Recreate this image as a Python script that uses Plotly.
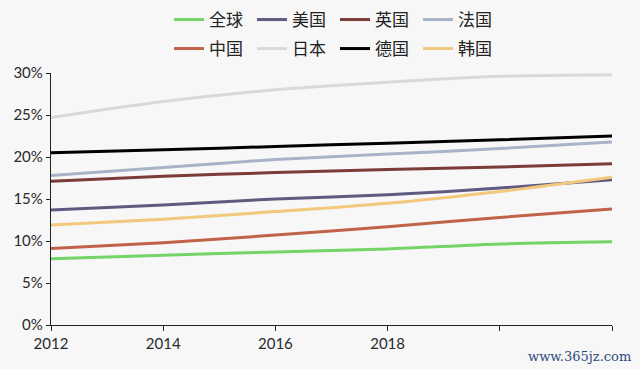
import plotly.graph_objects as go

years = [2012, 2014, 2016, 2018, 2020, 2022]
tick_vals = [2012, 2014, 2016, 2018, 2020, 2022]
tick_text = ["2012", "2014", "2016", "2018", "", ""]

series_names = ["全球", "美国", "英国", "法国", "中国", "日本", "德国", "韩国"]
global_vals = [7.9, 8.3, 8.7, 9.05, 9.65, 9.9]
usa_vals = [13.7, 14.3, 15.0, 15.5, 16.3, 17.3]
uk_vals = [17.1, 17.7, 18.15, 18.5, 18.8, 19.2]
france_vals = [17.8, 18.75, 19.7, 20.35, 21.0, 21.8]
china_vals = [9.1, 9.8, 10.7, 11.7, 12.8, 13.8]
japan_vals = [24.7, 26.6, 28.0, 28.9, 29.6, 29.8]
germany_vals = [20.5, 20.85, 21.25, 21.65, 22.05, 22.5]
korea_vals = [11.9, 12.6, 13.5, 14.5, 15.9, 17.6]

colors = ["#74d468", "#5f5b80", "#7b3b36", "#a8b3c8",
          "#c1624a", "#d9d9d9", "#000000", "#f2c97c"]
values = [global_vals, usa_vals, uk_vals, france_vals,
          china_vals, japan_vals, germany_vals, korea_vals]

fig = go.Figure()
for i, (name, vals, col) in enumerate(zip(series_names, values, colors)):
    fig.add_trace(go.Scatter(
        x=years, y=vals, name=name, mode="lines",
        line=dict(color=col, width=3, shape="spline", smoothing=0.8),
        legend="legend" if i < 4 else "legend2",
    ))

bg = "#f7f7f7"
L, R, T, B = 51, 28, 73, 44
W, H = 640, 369
pw, ph = W - L - R, H - T - B


def px_x(px):
    return (px - L) / pw


def px_y(py):
    return (H - B - py) / ph


legend_common = dict(
    orientation="h", xref="paper", yref="paper",
    xanchor="left", yanchor="middle",
    font=dict(family="Noto Sans CJK SC", size=17, color="#222222"),
    bgcolor="rgba(0,0,0,0)", entrywidth=38, itemwidth=30,
    tracegroupgap=0,
)

tick_font = dict(family="Lato, DejaVu Sans", size=15, color="#2a2a2a")

fig.update_layout(
    width=W, height=H,
    paper_bgcolor=bg, plot_bgcolor=bg,
    margin=dict(l=L, r=R, t=T, b=B, autoexpand=False),
    showlegend=True,
    legend=dict(x=px_x(169), y=px_y(20), **legend_common),
    legend2=dict(x=px_x(169), y=px_y(49), **legend_common),
    xaxis=dict(
        range=[2012, 2022], tickvals=tick_vals, ticktext=tick_text,
        showgrid=False, zeroline=False, showline=True, linecolor="#222222",
        linewidth=1.3, ticks="outside", ticklen=5, tickcolor="#222222",
        tickfont=tick_font,
    ),
    yaxis=dict(
        range=[0, 30], tickvals=[0, 5, 10, 15, 20, 25, 30],
        ticktext=["0%", "5%", "10%", "15%", "20%", "25%", "30%"],
        showgrid=False, zeroline=False, showline=True, linecolor="#222222",
        linewidth=1.3, ticks="outside", ticklen=4, tickcolor="#222222",
        tickfont=tick_font,
    ),
    annotations=[dict(
        text="www.365jz.com", xref="paper", yref="paper",
        x=px_x(633), y=px_y(356), xanchor="right", yanchor="middle",
        showarrow=False,
        font=dict(family="DejaVu Serif, Liberation Serif", size=13, color="#2b4a7c"),
    )],
)

fig.write_html(
    "out.html",
    config={"displayModeBar": False},
    post_script="document.body.style.margin='0';document.body.style.background='" + bg + "';",
)
